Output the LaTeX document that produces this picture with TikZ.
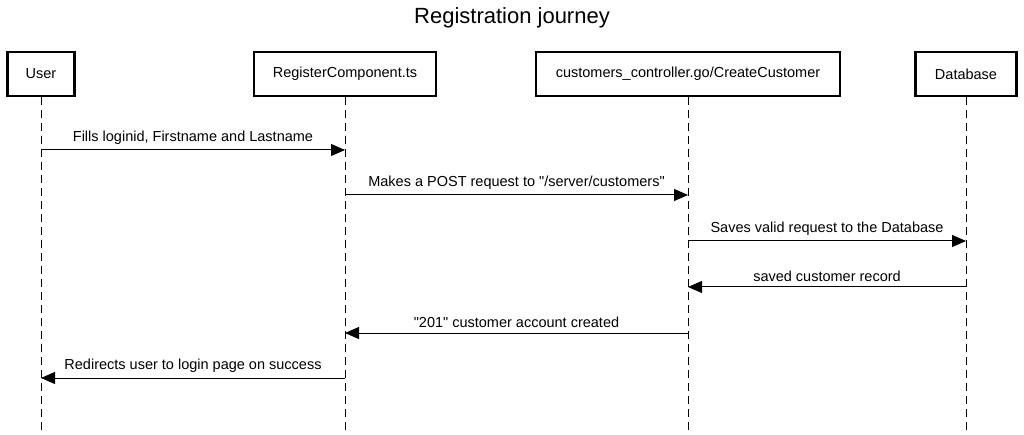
\documentclass[tikz,border=0pt]{standalone}
\usepackage{fontspec}
\setmainfont{Liberation Sans}[Ligatures=TeXOff]
\usetikzlibrary{arrows.meta,positioning}

\tikzset{
  actor/.style={draw,line width=2.2pt,minimum height=44pt,inner sep=0pt,font=\fontsize{14.5}{17}\selectfont},
  lifeline/.style={line width=1pt,dash pattern=on 8pt off 5pt},
  msg/.style={line width=1pt,-{Triangle[length=14pt,width=12pt]}},
  msgtext/.style={above=1.5pt,font=\fontsize{14.5}{17}\selectfont}
}

\begin{document}
\begin{tikzpicture}[x=1pt,y=-1pt]
    \useasboundingbox (0,0) rectangle (1024,435);
    \node[font=\fontsize{22}{26}\selectfont] (title) at (512,18) {Registration journey};
    % participants
    \node[actor,minimum width=67pt] (user) at (41,74) {User};
    \node[actor,minimum width=182pt] (reg) at (345,74) {RegisterComponent.ts};
    \node[actor,minimum width=304pt] (ctrl) at (688,74) {customers\_controller.go/CreateCustomer};
    \node[actor,minimum width=101pt] (db) at (966,74) {Database};
    \coordinate (userend) at (41,435);
    \coordinate (regend) at (345,435);
    \coordinate (ctrlend) at (688,435);
    \coordinate (dbend) at (966,435);
    \draw[lifeline] (user.south) -- (userend);
    \draw[lifeline] (reg.south) -- (regend);
    \draw[lifeline] (ctrl.south) -- (ctrlend);
    \draw[lifeline] (db.south) -- (dbend);
    % messages
    \coordinate (u1) at (41,150);   \coordinate (r1) at (345,150);
    \coordinate (r2) at (345,195);  \coordinate (c2) at (688,195);
    \coordinate (c3) at (688,241);  \coordinate (d3) at (966,241);
    \coordinate (d4) at (966,287);  \coordinate (c4) at (688,287);
    \coordinate (c5) at (688,333);  \coordinate (r5) at (345,333);
    \coordinate (r6) at (345,378);  \coordinate (u6) at (41,378);
    \draw[msg] (u1) -- node[msgtext] (m1) {Fills loginid, Firstname and Lastname} (r1);
    \draw[msg] (r2) -- node[msgtext] (m2) {Makes a POST request to "/server/customers"} (c2);
    \draw[msg] (c3) -- node[msgtext] (m3) {Saves valid request to the Database} (d3);
    \draw[msg] (d4) -- node[msgtext] (m4) {saved customer record} (c4);
    \draw[msg] (c5) -- node[msgtext] (m5) {"201" customer account created} (r5);
    \draw[msg] (r6) -- node[msgtext] (m6) {Redirects user to login page on success} (u6);
\end{tikzpicture}
\end{document}
